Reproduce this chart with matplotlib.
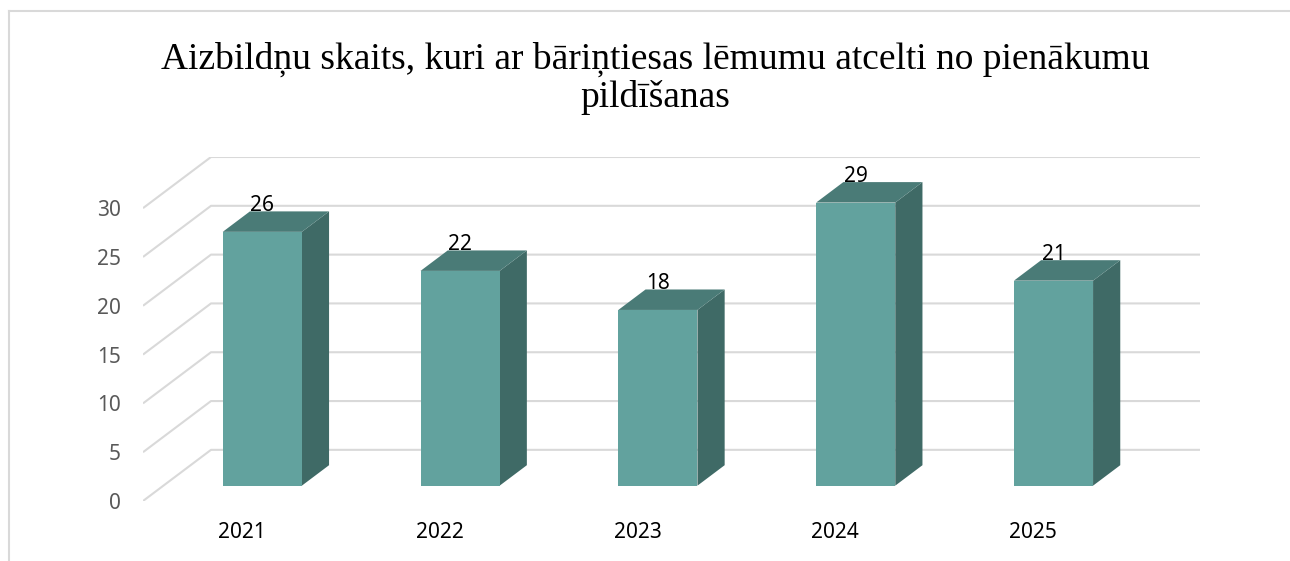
import matplotlib
matplotlib.use('Agg')
import matplotlib.pyplot as plt
from matplotlib.patches import Polygon
import numpy as np

# data
years = ['2021', '2022', '2023', '2024', '2025']
values = [26, 22, 18, 29, 21]
yticks = [0, 5, 10, 15, 20, 25, 30]
title = 'Aizbildņu skaits, kuri ar bāriņtiesas lēmumu atcelti no pienākumu\npildīšanas'

# colours
c_front = '#62A29E'
c_side = '#3F6A66'
c_top = '#4A7B77'
c_grid = '#D9D9D9'

# perspective offset of the back wall (in data units)
DX = 68 / 197.8   # category slots
DY = 51 / 9.733   # value units
d0, d1 = 0.3, 0.7  # depth span of bars
w0, w1 = 0.3, 0.7  # bar span inside a slot

W, H = 1290, 561
fig = plt.figure(figsize=(W / 100, H / 100), dpi=100)
ax = fig.add_axes([143 / W, (H - 501) / H, (1200 - 143) / W, (501 - 157) / H])
ax.set_xlim(0, len(years) + DX)
ax.set_ylim(0, 30 + DY)
ax.patch.set_alpha(0)
for s in ax.spines.values():
    s.set_visible(False)

# gridlines: diagonal on the side, horizontal on the back wall
n = len(years)
for v in yticks:
    ax.plot([0, DX, n + DX], [v, v + DY, v + DY], color=c_grid, lw=1.5,
            solid_capstyle='butt', zorder=1)

# 3d-looking bars
for i, v in enumerate(values):
    x0 = i + w0 + d0 * DX
    x1 = i + w1 + d0 * DX
    y0 = d0 * DY
    y1 = v + d0 * DY
    ddx = (d1 - d0) * DX
    ddy = (d1 - d0) * DY
    side = Polygon([(x1, y0), (x1 + ddx, y0 + ddy), (x1 + ddx, y1 + ddy), (x1, y1)],
                   closed=True, facecolor=c_side, edgecolor='none', zorder=2)
    top = Polygon([(x0, y1), (x1, y1), (x1 + ddx, y1 + ddy), (x0 + ddx, y1 + ddy)],
                  closed=True, facecolor=c_top, edgecolor='none', zorder=2)
    front = Polygon([(x0, y0), (x1, y0), (x1, y1), (x0, y1)],
                    closed=True, facecolor=c_front, edgecolor='none', zorder=3)
    for p in (side, top, front):
        ax.add_patch(p)
    ax.annotate(str(v), ((x0 + x1) / 2, y1), xytext=(0, 26), textcoords='offset pixels',
                ha='center', va='center', fontsize=15, family='Noto Sans',
                color='black', zorder=5)
    ax.annotate(years[i], (i + 0.5, 0), xytext=(0, -31), textcoords='offset pixels',
                ha='center', va='center', fontsize=15, family='Noto Sans',
                color='black', annotation_clip=False)

ax.set_xticks([])
ax.set_yticks(yticks)
ax.set_yticklabels([str(t) for t in yticks], fontsize=15, family='Noto Sans',
                   color='#595959')
ax.tick_params(axis='y', length=0, pad=16)

fig.text(655 / W, 1 - 42 / H, title, ha='center', va='top', fontsize=27,
         family='Liberation Serif', color='black', linespacing=1.1)

# outer frame (left and top edges only, as in the reference crop)
fig.add_artist(plt.Line2D([9 / W, 9 / W], [0, 1 - 11 / H], color='#D9D9D9', lw=1.5,
                          transform=fig.transFigure))
fig.add_artist(plt.Line2D([9 / W, 1], [1 - 11 / H, 1 - 11 / H], color='#D9D9D9', lw=1.5,
                          transform=fig.transFigure))

fig.savefig('out.png', dpi=100)
